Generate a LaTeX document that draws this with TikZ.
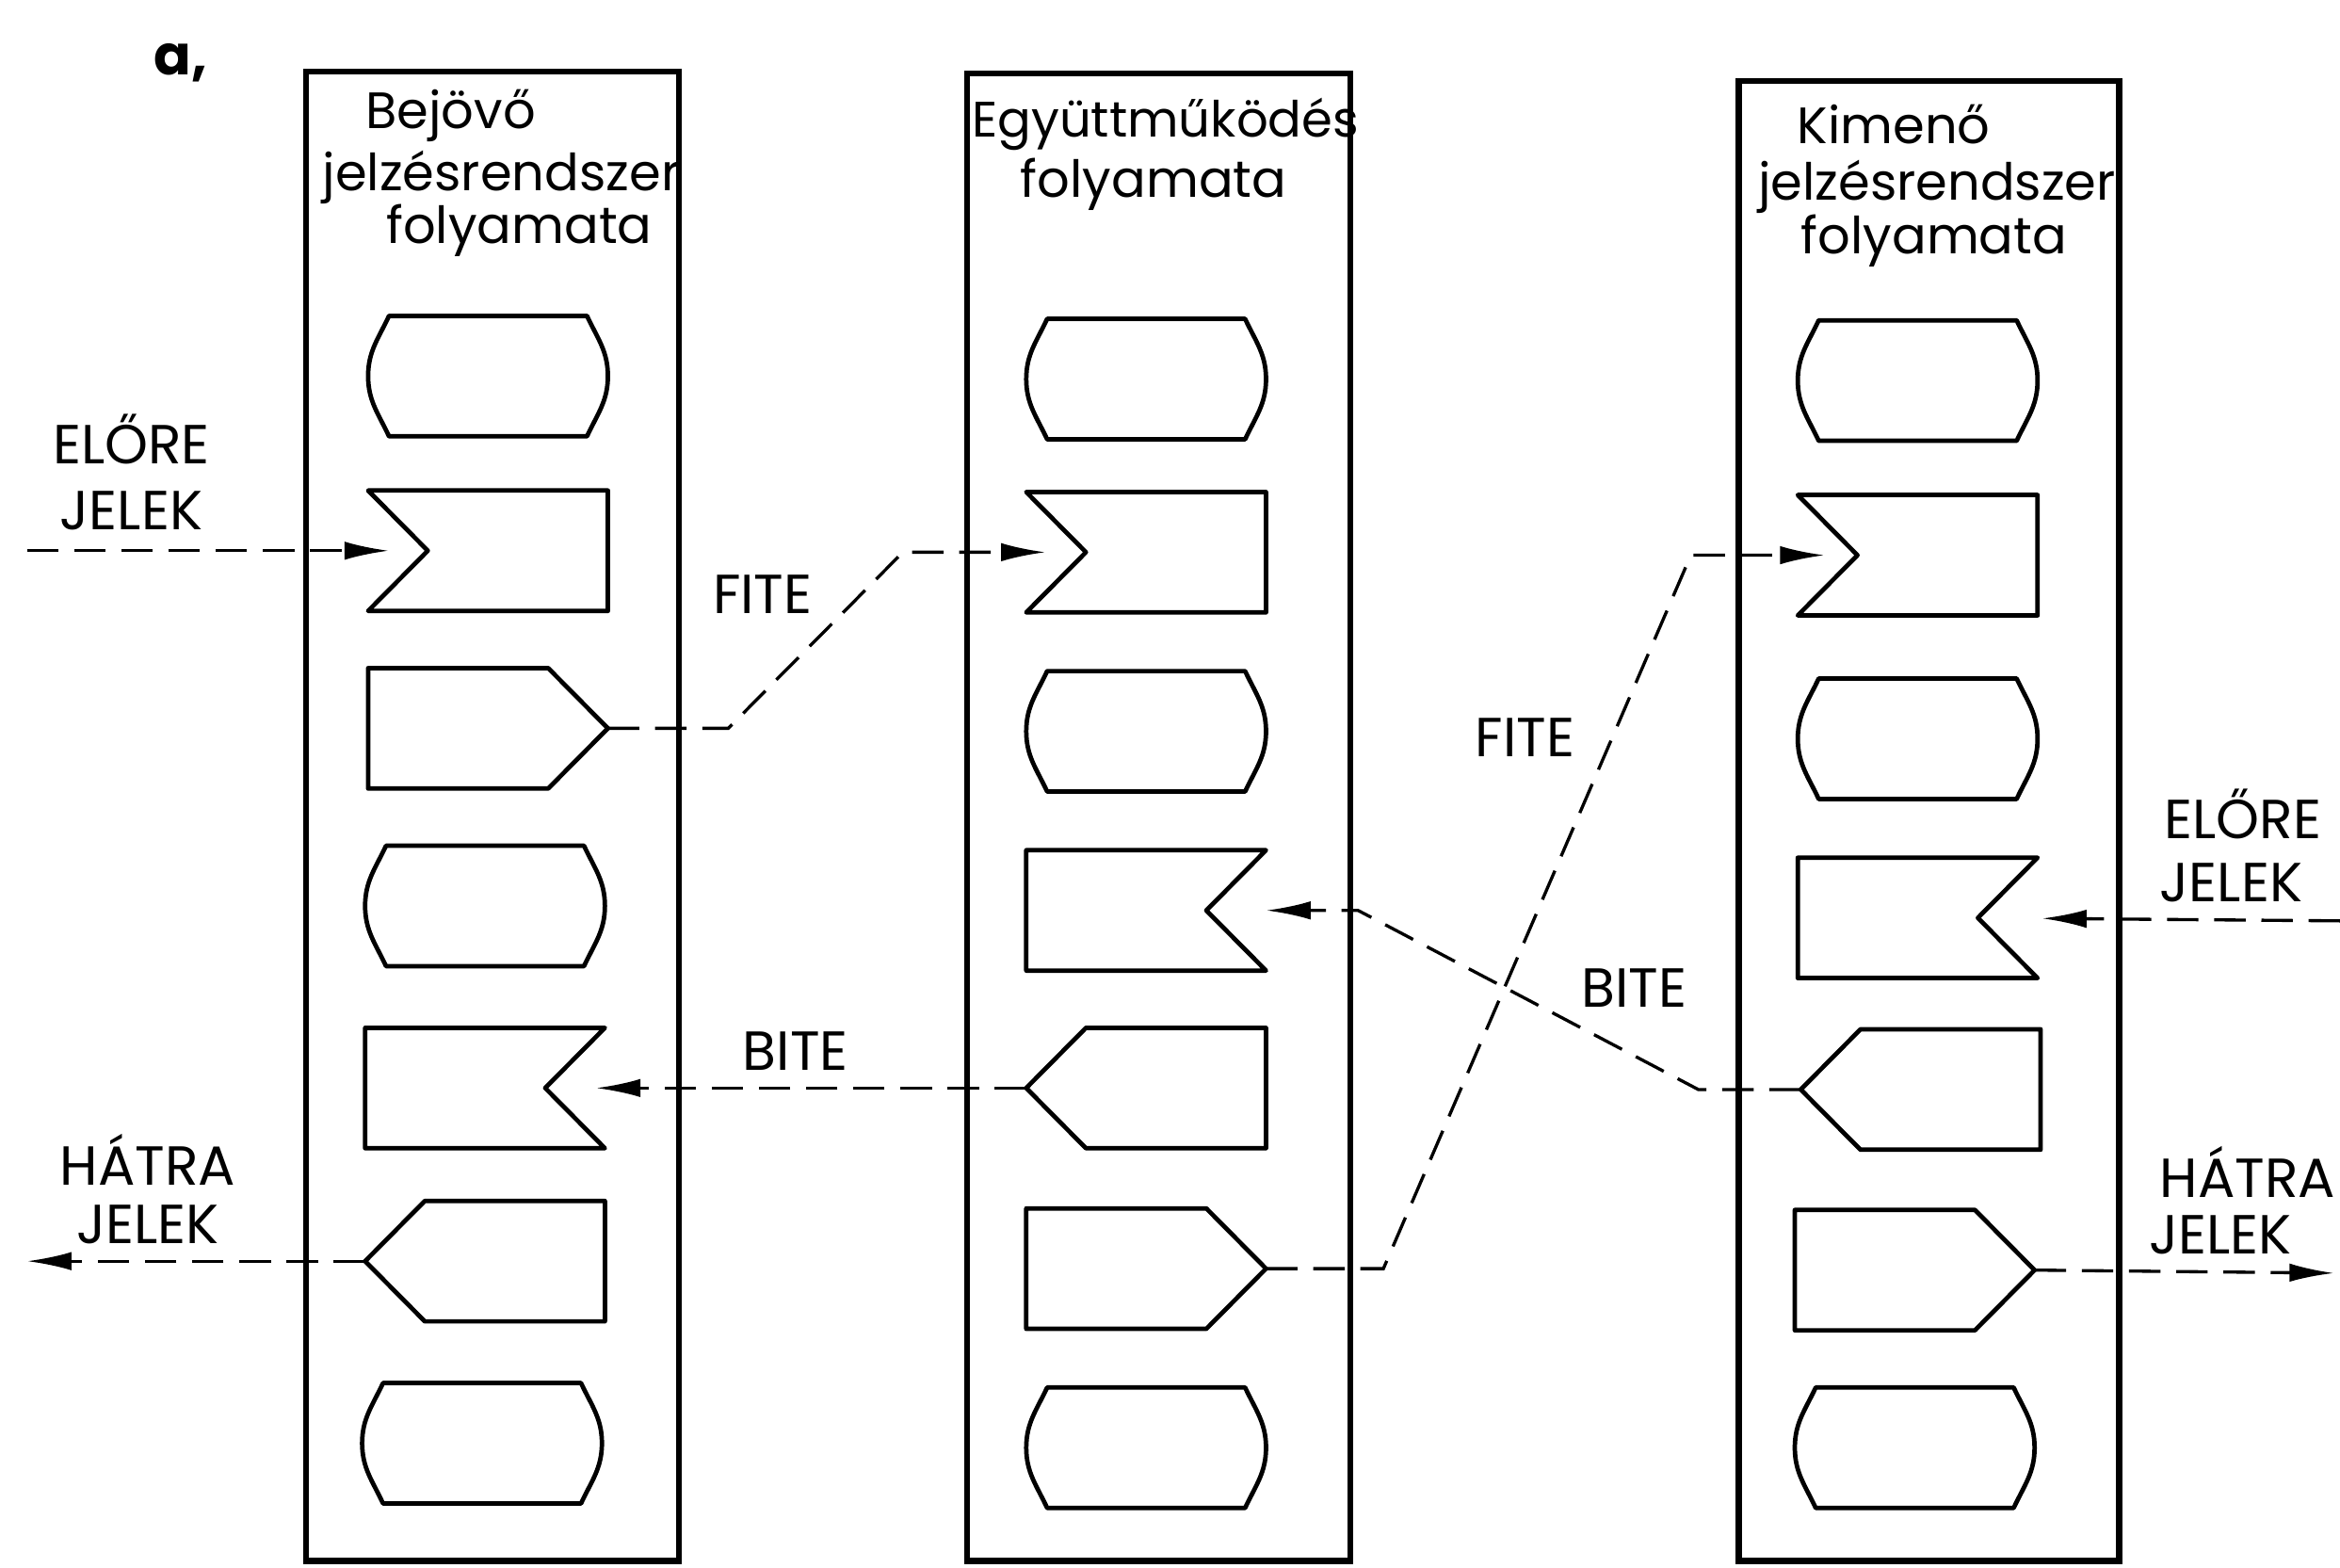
\documentclass[tikz,border=0pt]{standalone}
\usepackage{fontspec}
\setmainfont{Poppins}
\usetikzlibrary{calc,arrows.meta}

% flowchart symbols, each built on an invisible named box
\newcommand\termbox[3]{%
  \node[blk] (#1) at (#2,-#3) {};
  \draw[shp] ($(#1.north west)+(14,0)$) -- ($(#1.north east)+(-14,0)$)
    to[out=-65,in=90] (#1.east) to[out=-90,in=65] ($(#1.south east)+(-14,0)$)
    -- ($(#1.south west)+(14,0)$)
    to[out=115,in=-90] (#1.west) to[out=90,in=-115] cycle;}
\newcommand\recvleft[3]{%
  \node[blk] (#1) at (#2,-#3) {};
  \coordinate (#1-in) at ($(#1.west)+(40,0)$);
  \draw[shp] (#1.north west) -- (#1.north east) -- (#1.south east)
    -- (#1.south west) -- (#1-in) -- cycle;}
\newcommand\recvright[3]{%
  \node[blk] (#1) at (#2,-#3) {};
  \coordinate (#1-in) at ($(#1.east)+(-40,0)$);
  \draw[shp] (#1.north west) -- (#1.north east) -- (#1-in)
    -- (#1.south east) -- (#1.south west) -- cycle;}
\newcommand\sendright[3]{%
  \node[blk] (#1) at (#2,-#3) {};
  \draw[shp] (#1.north west) -- ($(#1.north east)+(-40,0)$) -- (#1.east)
    -- ($(#1.south east)+(-40,0)$) -- (#1.south west) -- cycle;}
\newcommand\sendleft[3]{%
  \node[blk] (#1) at (#2,-#3) {};
  \draw[shp] (#1.west) -- ($(#1.north west)+(40,0)$) -- (#1.north east)
    -- (#1.south east) -- ($(#1.south west)+(40,0)$) -- cycle;}

\begin{document}
\begin{tikzpicture}[x=0.02cm,y=0.02cm,
  frame/.style={draw, line width=2.3pt, inner sep=0pt},
  blk/.style={draw=none, inner sep=0pt, minimum width=3.2cm, minimum height=1.6cm},
  shp/.style={line width=1.7pt, line join=round},
  sig/.style={line width=1.2pt, dash pattern=on 12pt off 6pt},
  tip/.style={-{Latex[length=17pt,width=7pt]}},
  lbl/.style={font=\fontsize{21}{24}\selectfont, inner sep=0pt},
  ttl/.style={font=\fontsize{19.5}{22}\selectfont, inner sep=0pt, anchor=base},
]
\useasboundingbox (0,-1050) rectangle (1568,0);

% the three process columns
\node[frame, minimum width=5cm, minimum height=19.96cm] (boxL) at (330,-547) {};
\node[frame, minimum width=5.14cm, minimum height=19.94cm] (boxM) at (776.5,-547.5) {};
\node[frame, minimum width=5.1cm, minimum height=19.84cm] (boxR) at (1292.5,-550) {};

\node[lbl, font=\fontsize{21}{24}\selectfont\bfseries] (tag) at (121,-42) {a,};

% column titles
\node[ttl] (tL1) at (302,-86) {Bejövő};
\node[ttl] (tL2) at (336,-128) {jelzésrendszer};
\node[ttl] (tL3) at (348,-163) {folyamata};
\node[ttl, font=\fontsize{19}{22}\selectfont] (tM1) at (781,-92) {Együttműködés};
\node[ttl] (tM2) at (773,-132) {folyamata};
\node[ttl] (tR1) at (1269,-96) {Kimenő};
\node[ttl] (tR2) at (1298,-134) {jelzésrendszer};
\node[ttl] (tR3) at (1296,-170) {folyamata};

% incoming signalling process
\termbox{L1}{327}{252}
\recvleft{L2}{327}{369}
\sendright{L3}{327}{488}
\termbox{L4}{325}{607}
\recvright{L5}{325}{729}
\sendleft{L6}{325}{845}
\termbox{L7}{323}{967}

% interworking process
\termbox{M1}{768}{254}
\recvleft{M2}{768}{370}
\termbox{M3}{768}{490}
\recvright{M4}{768}{610}
\sendleft{M5}{768}{729}
\sendright{M6}{768}{850}
\termbox{M7}{768}{970}

% outgoing signalling process
\termbox{R1}{1285}{255}
\recvleft{R2}{1285}{372}
\termbox{R3}{1285}{495}
\recvright{R4}{1285}{615}
\sendleft{R5}{1287}{730}
\sendright{R6}{1283}{851}
\termbox{R7}{1283}{970}

% free ends and bends of the signal lines
\coordinate (inL) at (18,-369);
\coordinate (outL) at (18,-845);
\coordinate (fa) at (488,-488);
\coordinate (fb) at (605,-370);
\coordinate (fc) at (927,-850);
\coordinate (fd) at (1133,-372);
\coordinate (ba) at (1138,-730);
\coordinate (bb) at (910,-610);
\coordinate (inR) at (1568,-617);
\coordinate (outR) at (1564,-853);

\draw[sig, tip, shorten >=0.52cm] (inL) -- (L2-in);
\draw[sig, tip] (L6.west) -- (outL);
\draw[sig, tip, shorten >=0.54cm] (L3.east) -- (fa) -- (fb) -- (M2-in);
\draw[sig, tip, shorten >=0.68cm] (M5.west) -- (L5-in);
\draw[sig, tip, shorten >=0.44cm] (M6.east) -- (fc) -- (fd) -- (R2-in);
\draw[sig, tip, shorten >=0.8cm] (R5.west) -- (ba) -- (bb) -- (M4-in);
\draw[sig, tip, shorten >=0.86cm] (inR) -- (R4-in);
\draw[sig, tip] (R6.east) -- (outR);

% signal labels
\node[lbl, anchor=base] (eL1) at (88,-311) {ELŐRE};
\node[lbl, anchor=base] (eL2) at (88,-355) {JELEK};
\node[lbl, anchor=base] (hL1) at (99,-794) {HÁTRA};
\node[lbl, anchor=base] (hL2) at (99,-833) {JELEK};
\node[lbl, anchor=base] (f1) at (511,-411) {FITE};
\node[lbl, anchor=base] (b1) at (533,-717) {BITE};
\node[lbl, anchor=base] (f2) at (1022,-507) {FITE};
\node[lbl, anchor=base] (b2) at (1095,-675) {BITE};
\node[lbl, anchor=base west] (eR1) at (1450,-562) {ELŐRE};
\node[lbl, anchor=base west] (eR2) at (1447,-604) {JELEK};
\node[lbl, anchor=base west] (hR1) at (1447,-802) {HÁTRA};
\node[lbl, anchor=base west] (hR2) at (1440,-840) {JELEK};
\end{tikzpicture}
\end{document}
